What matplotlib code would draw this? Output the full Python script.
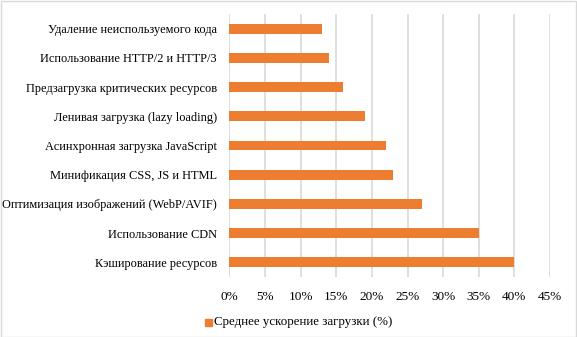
import matplotlib.pyplot as plt
from matplotlib.ticker import FuncFormatter, MultipleLocator
from matplotlib.patches import Rectangle

# data (top to bottom as shown)
categories = [
    "Удаление неиспользуемого кода",
    "Использование HTTP/2 и HTTP/3",
    "Предзагрузка критических ресурсов",
    "Ленивая загрузка (lazy loading)",
    "Асинхронная загрузка JavaScript",
    "Минификация CSS, JS и HTML",
    "Оптимизация изображений (WebP/AVIF)",
    "Использование CDN",
    "Кэширование ресурсов",
]
values = [13, 14, 16, 19, 22, 23, 27, 35, 40]
series_name = "Среднее ускорение загрузки (%)"

plt.rcParams['font.family'] = ['Liberation Serif', 'DejaVu Serif']

W, H = 577, 337
fig = plt.figure(figsize=(W / 100, H / 100), dpi=100)
ax = fig.add_axes([229.5 / W, 1 - 277 / H, (550 - 229.5) / W, (277 - 14) / H])

ypos = list(range(len(categories)))
ax.barh(ypos, values, height=0.34, color='#ED7D31', zorder=3)
ax.set_yticks(ypos)
ax.set_yticklabels(categories, fontsize=8.9)
ax.set_ylim(len(categories) - 0.5, -0.5)

ax.set_xlim(0, 45)
ax.xaxis.set_major_locator(MultipleLocator(5))
ax.xaxis.set_major_formatter(FuncFormatter(lambda v, p: f"{int(round(v))}%"))
ax.tick_params(axis='x', labelsize=9.5, length=0, pad=10)
ax.tick_params(axis='y', length=0, pad=9)
ax.grid(axis='x', color='#d9d9d9', linewidth=1.2, zorder=0)
for s in ax.spines.values():
    s.set_visible(False)

# legend
fig.patches.append(Rectangle((205 / W, 1 - 326 / H), 7 / W, 7 / H,
                             transform=fig.transFigure, color='#ED7D31'))
fig.text(214 / W, 1 - 322 / H, series_name, fontsize=9.3, va='center', ha='left')

# chart border
fig.patches.append(Rectangle((0.5 / W, 0.5 / H), (W - 1.5) / W, (H - 1.5) / H,
                             transform=fig.transFigure, fill=False,
                             edgecolor='#d9d9d9', linewidth=1))

fig.savefig('out.png', dpi=100)
